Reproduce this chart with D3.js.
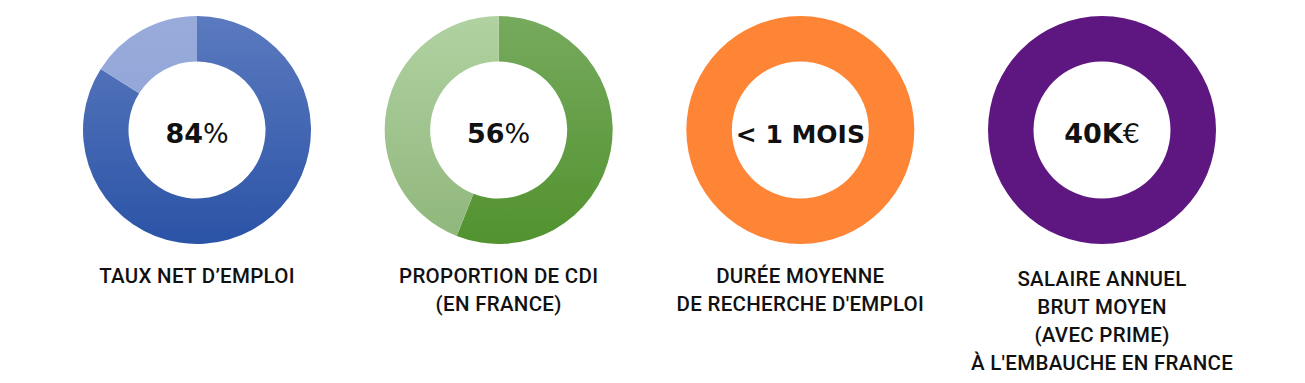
<!DOCTYPE html>
<html><head><meta charset="utf-8">
<script src="https://cdn.jsdelivr.net/npm/d3@7/dist/d3.min.js"></script>
<style>html,body{margin:0;padding:0;background:#fff;}svg{display:block;}</style>
</head><body>
<svg id="c" width="1305" height="383"></svg>
<script>
// Data
const categories = ["TAUX NET D’EMPLOI", "PROPORTION DE CDI\n(EN FRANCE)", "DURÉE MOYENNE\nDE RECHERCHE D'EMPLOI", "SALAIRE ANNUEL\nBRUT MOYEN\n(AVEC PRIME)\nÀ L'EMBAUCHE EN FRANCE"];
const values = [84, 56, 100, 100];
const centerMain = ["84", "56", "< 1 MOIS", "40K"];
const centerSuffix = ["%", "%", "", "€"];
const darkTop = ["#5b7abf", "#76aa5d", "#fd8535", "#5e1780"];
const darkBot = ["#2b53a6", "#52922f", "#fd8535", "#5e1780"];
const lightTop = ["#98abdb", "#b0d2a1", "#fd8535", "#5e1780"];
const lightBot = ["#8aa0d3", "#8fb67b", "#fd8535", "#5e1780"];

const svg = d3.select("#c");
const x = d3.scalePoint().domain(d3.range(categories.length)).range([197, 1102]);
const cy = 130, rOuter = 114, rInner = 68.5;
const pie = d3.pie().sort(null).value(d => d);
const arc = d3.arc().innerRadius(rInner).outerRadius(rOuter);
const defs = svg.append("defs");

categories.forEach((cat, i) => {
  const gd = defs.append("linearGradient").attr("id", "gd" + i)
    .attr("gradientUnits", "userSpaceOnUse").attr("x1", 0).attr("y1", -rOuter).attr("x2", 0).attr("y2", rOuter);
  gd.append("stop").attr("offset", 0).attr("stop-color", darkTop[i]);
  gd.append("stop").attr("offset", 1).attr("stop-color", darkBot[i]);
  const gl = defs.append("linearGradient").attr("id", "gl" + i)
    .attr("gradientUnits", "userSpaceOnUse").attr("x1", 0).attr("y1", -rOuter).attr("x2", 0).attr("y2", rOuter);
  gl.append("stop").attr("offset", 0).attr("stop-color", lightTop[i]);
  gl.append("stop").attr("offset", 1).attr("stop-color", lightBot[i]);

  const g = svg.append("g").attr("transform", `translate(${x(i)},${cy})`);
  const data = pie([values[i], 100 - values[i]]).filter(d => d.value > 0);
  g.selectAll("path").data(data).join("path")
    .attr("d", arc)
    .attr("fill", (d, j) => d.index === 0 ? `url(#gd${i})` : `url(#gl${i})`);

  const t = g.append("text").attr("text-anchor", "middle").attr("y", 13)
    .attr("font-family", "DejaVu Sans").attr("font-size", i === 2 ? 25 : 27).attr("fill", "#111");
  t.append("tspan").attr("font-weight", "bold").text(centerMain[i]);
  if (centerSuffix[i]) t.append("tspan").attr("font-weight", "normal").text(centerSuffix[i]);

  const lines = cat.split("\n");
  const lt = svg.append("text").attr("text-anchor", "middle")
    .attr("font-family", "Roboto").attr("font-weight", 500).attr("font-size", 20.5)
    .attr("letter-spacing", 0.3).attr("fill", "#111");
  lines.forEach((ln, k) => {
    lt.append("tspan").attr("x", x(i)).attr("y", (i === 3 ? 286 : 283) + k * 28).text(ln);
  });
});
</script>
</body></html>
